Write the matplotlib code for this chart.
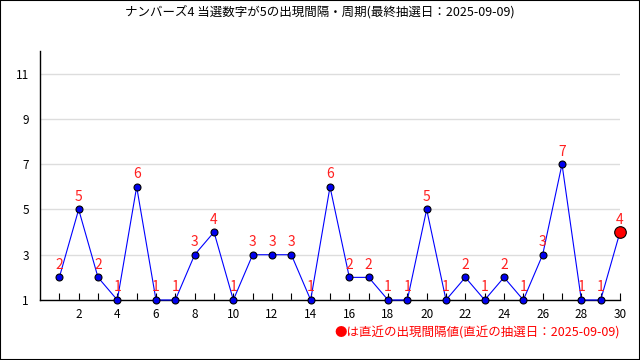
import matplotlib
matplotlib.use("Agg")
import matplotlib.pyplot as plt
from matplotlib.patches import Rectangle

plt.rcParams['font.family'] = ['Noto Sans CJK JP', 'DejaVu Sans']

x = list(range(1, 31))
values = [2, 5, 2, 1, 6, 1, 1, 3, 4, 1, 3, 3, 3, 1, 6, 2, 2, 1, 1, 5,
          1, 2, 1, 2, 1, 3, 7, 1, 1, 4]
xticks = list(range(2, 31, 2))
yticks = [1, 3, 5, 7, 9, 11]
title = "ナンバーズ4 当選数字が5の出現間隔・周期(最終抽選日：2025-09-09)"
note = "●は直近の出現間隔値(直近の抽選日：2025-09-09)"

fig = plt.figure(figsize=(6.4, 3.6), dpi=100)
ax = fig.add_axes([40/640, 60/360, 580/640, 249/360])
ax.set_xlim(0, 30)
ax.set_ylim(1, 12)

ax.plot(x, values, color='#0000ff', lw=0.8, zorder=3, clip_on=False)
ax.scatter(x[:-1], values[:-1], s=25, color='#0000ee', edgecolors='black',
           linewidths=0.8, zorder=4, clip_on=False)
ax.scatter([x[-1]], [values[-1]], s=70, color='#ff0000', edgecolors='black',
           linewidths=0.8, zorder=5, clip_on=False)
for xi, v in zip(x, values):
    ax.annotate(str(v), (xi, v), xytext=(0, 4), textcoords='offset points',
                ha='center', va='bottom', color='#ff2020', fontsize=10)

ax.set_xticks(xticks)
ax.set_xticks(x, minor=True)
ax.set_yticks(yticks)
ax.tick_params(axis='x', which='both', direction='in', length=5, width=0.8,
               labelsize=8.5, pad=6)
ax.tick_params(axis='y', length=0, labelsize=8.5, pad=8)
ax.grid(axis='y', color='#dddddd', lw=1)
ax.set_axisbelow(True)
for s in ['top', 'right']:
    ax.spines[s].set_visible(False)
for s in ['left', 'bottom']:
    ax.spines[s].set_linewidth(1)

fig.text(0.5, 1 - 12/360, title, ha='center', va='center', fontsize=9)
fig.text(620/640, 1 - 333/360, note, ha='right', va='center', fontsize=9,
         color='#ff0000')
fig.patches.append(Rectangle((0, 0), 1, 1, transform=fig.transFigure,
                             fill=False, edgecolor='black', lw=1.5))
fig.savefig('out.png', dpi=100)
